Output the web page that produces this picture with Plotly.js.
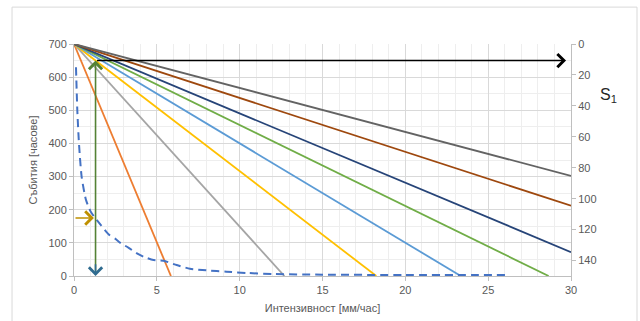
<!DOCTYPE html>
<html>
<head>
<meta charset="utf-8">
<script src="https://cdn.plot.ly/plotly-3.0.1.min.js"></script>
<style>html,body{margin:0;padding:0;background:#fff;}#chart{width:640px;height:321px;}</style>
</head>
<body>
<div id="chart"></div>
<script>
// ---- data ----
const lineStartX = 0;
const lineStartY = 700;
const lineEndX = [5.85, 12.7, 18.25, 23.35, 28.65, 30, 30, 30];
const lineEndY = [0, 0, 0, 0, 0, 72, 212, 302];

const idfX = [0.12, 0.2, 0.3, 0.46, 0.72, 1.0, 1.23, 1.6, 2.1, 2.5, 2.8, 3.3, 3.8, 4.2, 4.8, 5.4, 6.2, 7.0, 8.0, 9.2, 10.5, 12, 15, 20, 26.2];
const idfY = [630, 500, 400, 300, 230, 195, 178, 155, 125, 112, 100, 85, 68, 58, 48, 46, 33, 22, 17, 13, 9, 6, 4, 3, 3];

const readIntensity = 1.3;     // intensity of the reading
const readHours = 650;         // hours reached on the left axis
const eventHours = 175;        // hours of the event (gold arrow)
const arrowEndX = 29.7;        // black arrow runs to the S1 axis

const xTicks = [0, 5, 10, 15, 20, 25, 30];
const yTicks = [0, 100, 200, 300, 400, 500, 600, 700];
const s1Ticks = [0, 20, 40, 60, 80, 100, 120, 140];

// ---- styles ----
const colors = ['#ED7D31', '#A5A5A5', '#FFC000', '#5B9BD5', '#70AD47', '#264478', '#9E480E', '#636363'];
const traces = [];
for (let i = 0; i < lineEndX.length; i++) {
  traces.push({
    x: [lineStartX, lineEndX[i]], y: [lineStartY, lineEndY[i]],
    type: 'scatter', mode: 'lines',
    line: {color: colors[i], width: 1.8}, hoverinfo: 'skip', showlegend: false
  });
}
traces.push({
  x: idfX, y: idfY, type: 'scatter', mode: 'lines',
  line: {color: '#4472C4', width: 2, dash: '8px,5px', shape: 'spline', smoothing: 0.6},
  hoverinfo: 'skip', showlegend: false
});
// anchor trace for the S1 axis
traces.push({x: [arrowEndX], y: [0], yaxis: 'y2', type: 'scatter', mode: 'markers',
  marker: {opacity: 0}, hoverinfo: 'skip', showlegend: false});

const tickFont = {family: 'Liberation Sans, Arial, sans-serif', size: 11, color: '#595959'};

function arrow(x0, y0, x1, y1, color, w) {
  return {x: x1, y: y1, ax: x0, ay: y0, xref: 'x', yref: 'y', axref: 'x', ayref: 'y',
    text: '', showarrow: true, arrowhead: 4, arrowsize: 1.6, arrowwidth: w, arrowcolor: color};
}

const layout = {
  width: 640, height: 321,
  margin: {l: 74, r: 69, t: 44, b: 45},
  paper_bgcolor: '#ffffff', plot_bgcolor: '#ffffff',
  showlegend: false,
  xaxis: {
    range: [0, 30], tickvals: xTicks, ticktext: xTicks.map(String),
    showgrid: true, gridcolor: '#D9D9D9', gridwidth: 1,
    minor: {dtick: 1, showgrid: true, gridcolor: '#EEEEEE', gridwidth: 1},
    showline: true, linecolor: '#BFBFBF', ticks: 'outside', ticklen: 4, tickcolor: '#BFBFBF',
    zeroline: false, tickfont: tickFont,
    title: {text: 'Интензивност [мм/час]', font: tickFont, standoff: 9}
  },
  yaxis: {
    range: [0, 700], tickvals: yTicks, ticktext: yTicks.map(String),
    showgrid: true, gridcolor: '#D9D9D9', gridwidth: 1,
    minor: {dtick: 50, showgrid: true, gridcolor: '#EEEEEE', gridwidth: 1},
    showline: true, linecolor: '#BFBFBF', ticks: 'outside', ticklen: 4, tickcolor: '#BFBFBF',
    zeroline: false, tickfont: tickFont,
    title: {text: 'Събития [часове]', font: tickFont, standoff: 8}
  },
  yaxis2: {
    overlaying: 'y', side: 'right', range: [150, 0],
    tickvals: s1Ticks, ticktext: s1Ticks.map(String),
    showgrid: false, showline: true, linecolor: '#BFBFBF',
    ticks: 'outside', ticklen: 4, tickcolor: '#BFBFBF', zeroline: false, tickfont: tickFont
  },
  shapes: [
    {type: 'rect', xref: 'paper', yref: 'paper', x0: -0.1247, x1: 1.1328, y0: -0.25, y1: 1.159,
     line: {color: '#D9D9D9', width: 1}, fillcolor: 'rgba(0,0,0,0)', layer: 'below'}
  ],
  annotations: [
    arrow(readIntensity, readHours, arrowEndX, readHours, '#000000', 1.6),
    arrow(readIntensity, 0, readIntensity, readHours, '#548235', 1.6),
    arrow(readIntensity, 40, readIntensity, 0, '#2F6B8F', 1.6),
    arrow(lineStartX, eventHours, readIntensity - 0.1, eventHours, '#BF9000', 1.6),
    {xref: 'paper', yref: 'paper', x: 1.055, y: 0.78, xanchor: 'left', yanchor: 'middle',
     text: 'S<sub>1</sub>', showarrow: false,
     font: {family: 'Liberation Sans, Arial, sans-serif', size: 16, color: '#262626'}}
  ]
};

Plotly.newPlot('chart', traces, layout, {displayModeBar: false, staticPlot: true});
</script>
</body>
</html>
